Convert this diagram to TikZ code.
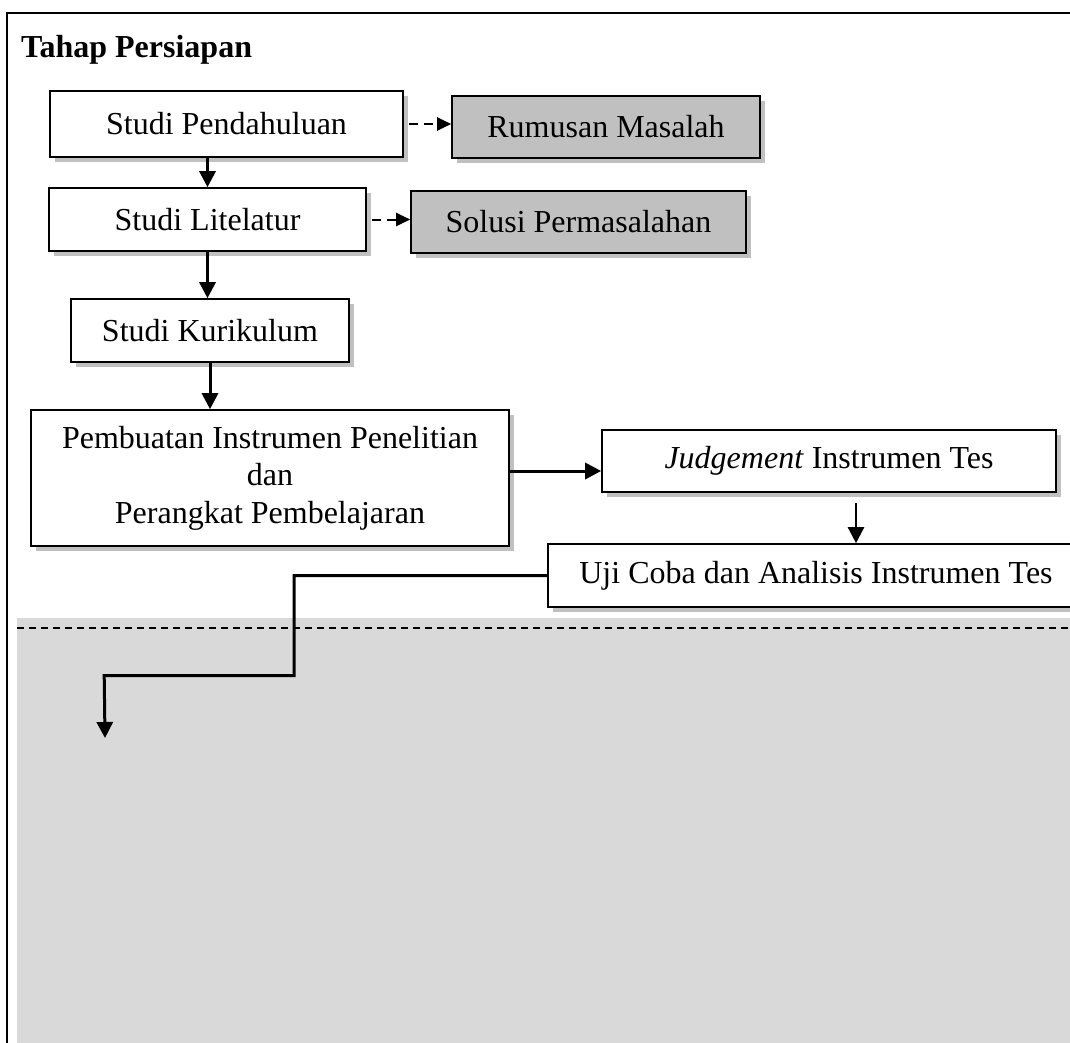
\documentclass[tikz,border=0pt]{standalone}
\usepackage{fontspec}
\setmainfont{Liberation Serif}
\usetikzlibrary{arrows.meta,shadows}
\definecolor{panelgrey}{HTML}{D9D9D9}
\definecolor{fillgrey}{HTML}{C0C0C0}
\begin{document}
\begin{tikzpicture}[x=1pt, y=-1pt,
      every node/.style = {font=\fontsize{32}{37.5}\selectfont},
      procbox/.style = {shape=rectangle, draw, line width=1.6pt, fill=white, align=center, inner sep=0pt,
                        drop shadow={shadow xshift=5pt, shadow yshift=-5pt, fill=fillgrey, opacity=1}},
      resbox/.style = {procbox, fill=fillgrey},
      flowarrow/.style = {line width=3pt, -{Triangle[length=16pt,width=16pt]}},
      dasharrow/.style = {line width=2pt, dash pattern=on 9pt off 6pt, shorten <=5pt, -{Triangle[length=14pt,width=13pt]}}
      ]
      \useasboundingbox (0,0) rectangle (1070,1042);
      % frame and lower panel
      \draw[line width=2.2pt] (7,1045) -- (7,13) -- (1075,13);
      \fill[panelgrey] (17,618) rectangle (1075,1045);
      \draw[line width=1.4pt, dash pattern=on 7pt off 5pt] (17,628) -- (1075,628);
      \node[font=\fontsize{32}{37.5}\selectfont\bfseries, anchor=west, inner sep=0pt] (title) at (21,50) {Tahap Persiapan};
      % steps
      \node[procbox, minimum width=353pt, minimum height=66pt] (pend) at (226.5,124) {Studi Pendahuluan};
      \node[resbox, minimum width=308pt, minimum height=62pt] (rum) at (606,127) {Rumusan Masalah};
      \node[procbox, minimum width=317pt, minimum height=63pt] (lit) at (207.5,219.5) {Studi Litelatur};
      \node[resbox, minimum width=335pt, minimum height=62pt] (sol) at (578.5,222) {Solusi Permasalahan};
      \node[procbox, minimum width=278pt, minimum height=63pt] (kur) at (210,330.5) {Studi Kurikulum};
      \node[procbox, minimum width=478pt, minimum height=136pt] (pem) at (270,478)
            {Pembuatan Instrumen Penelitian\\dan\\Perangkat Pembelajaran};
      \node[procbox, minimum width=454pt, minimum height=62pt] (judg) at (829,461) {\textit{Judgement} Instrumen Tes};
      \node[procbox, minimum width=536pt, minimum height=63pt] (uji) at (816,575.5) {Uji Coba dan Analisis Instrumen Tes};
      % connectors
      \coordinate (pout) at ([yshift=7pt]pem.east);
      \coordinate (jout) at ([xshift=27pt,yshift=-10pt]judg.south);
      \coordinate (tip) at (105,738);
      \draw[dasharrow] (pend.east) -- (pend.east -| rum.west);
      \draw[dasharrow] (lit.east) -- (lit.east -| sol.west);
      \draw[flowarrow] (lit.north |- pend.south) -- (lit.north);
      \draw[flowarrow] (lit.south) -- (lit.south |- kur.north);
      \draw[flowarrow] (kur.south) -- (kur.south |- pem.north);
      \draw[flowarrow] (pout) -- (pout -| judg.west);
      \draw[flowarrow, line width=2.4pt] (jout) -- (jout |- uji.north);
      \draw[flowarrow] (uji.west) -- ++(-253,0) |- ++(-190,100) -- (tip);
\end{tikzpicture}
\end{document}
